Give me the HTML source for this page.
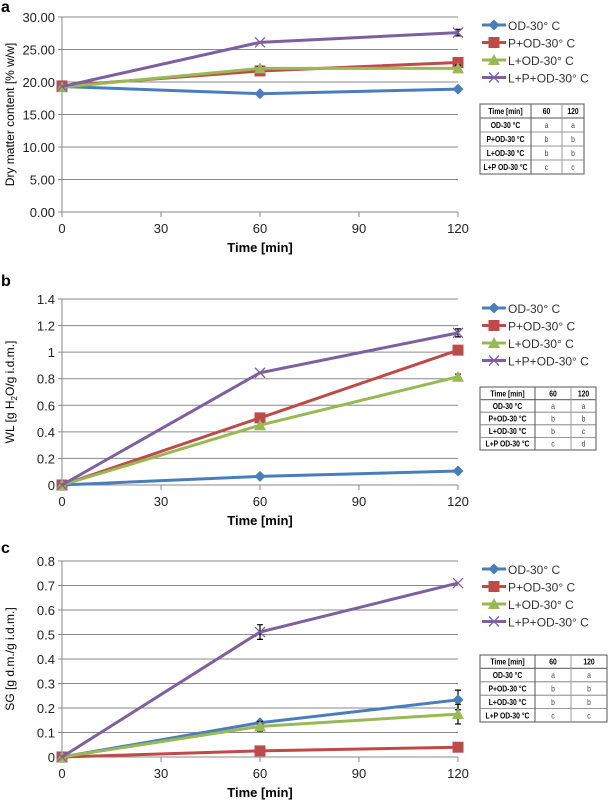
<!DOCTYPE html>
<html><head><meta charset="utf-8"><style>
body{margin:0;background:#fff;width:608px;height:800px;overflow:hidden;font-family:"Liberation Sans",sans-serif}
svg{display:block}
</style></head><body>
<svg id="s" width="608" height="800"></svg>
<script>
const times=[0,60,120];
const xTicks=[0,30,60,90,120];
const seriesNames=["OD-30° C","P+OD-30° C","L+OD-30° C","L+P+OD-30° C"];
const aOD=[19.3,18.2,18.9], aP=[19.4,21.7,23.0], aL=[19.2,22.1,22.1], aLP=[19.3,26.1,27.6];
const aErr=[[0,0,0],[0,0,0],[0,0.3,0.5],[0,0,0.5]];
const bOD=[0,0.065,0.105], bP=[0,0.505,1.015], bL=[0,0.45,0.815], bLP=[0,0.845,1.145];
const bErr=[[0,0,0],[0,0,0],[0,0,0.02],[0,0,0.03]];
const cOD=[0,0.14,0.233], cP=[0,0.025,0.04], cL=[0,0.125,0.175], cLP=[0,0.51,0.71];
const cErr=[[0,0,0.04],[0,0,0],[0,0.02,0.04],[0,0.03,0]];
const aTicks=["0.00","5.00","10.00","15.00","20.00","25.00","30.00"];
const bTicks=["0","0.2","0.4","0.6","0.8","1","1.2","1.4"];
const cTicks=["0","0.1","0.2","0.3","0.4","0.5","0.6","0.7","0.8"];
const aTable=[["a","a"],["b","b"],["b","b"],["c","c"]];
const bTable=[["a","a"],["b","b"],["b","c"],["c","d"]];
const cTable=[["a","a"],["b","b"],["b","b"],["c","c"]];
const rowNames=["OD-30 °C","P+OD-30 °C","L+OD-30 °C","L+P OD-30 °C"];
const colors=["#4a7ebb","#be4b48","#98b954","#7d60a0"];
const NS="http://www.w3.org/2000/svg";
const svg=document.getElementById('s');
function mk(t,a,p,txt){const e=document.createElementNS(NS,t);for(const k in a)e.setAttribute(k,a[k]);if(txt!==undefined)e.textContent=txt;(p||svg).appendChild(e);return e;}
function panel(o){
 const g=mk('g',{});
 
 
 const x0=62,x1=458;
 const X=v=>x0+(v/120)*(x1-x0);
 const Y=v=>o.yB-(v/o.max)*(o.yB-o.yT);
 const lt=mk('text',{x:1,y:o.letterY,'font-size':16,'font-weight':'bold'},g,o.letter);
 
 
 o.ticks.forEach((t,i)=>{const v=o.max*i/(o.ticks.length-1);const y=Y(v);
  const gl=mk('line',{x1:x0,x2:x1,y1:y,y2:y,stroke:'#8a8a8a','stroke-width':1},g);
  
  
  mk('line',{x1:x0-4,x2:x0,y1:y,y2:y,stroke:'#8a8a8a'},g);
  const tl=mk('text',{x:x0-7,y:y+5,'font-size':13,'text-anchor':'end',fill:'#222'},g,t);
  
  
 });
 mk('line',{x1:x0,x2:x0,y1:o.yT,y2:o.yB,stroke:'#8a8a8a'},g);
 xTicks.forEach(t=>{const x=X(t);mk('line',{x1:x,x2:x,y1:o.yB,y2:o.yB+5,stroke:'#8a8a8a'},g);
  const tl=mk('text',{x:x,y:o.yB+21,'font-size':13,'text-anchor':'middle',fill:'#222'},g,t);
  
  });
 const xt=mk('text',{x:(x0+x1)/2,y:o.yB+40,'font-size':13,'font-weight':'bold','text-anchor':'middle'},g,'Time [min]');
 
 
 const yc=(o.yT+o.yB)/2;
 const yt=mk('text',{x:14,y:yc,'font-size':12,'text-anchor':'middle',transform:`rotate(-90 14 ${yc})`},g);
 yt.innerHTML=o.ytitle;
 
 
 o.series.forEach((d,si)=>{
  const c=colors[si];
  const pl=mk('polyline',{points:d.map((v,i)=>X(times[i])+','+Y(v)).join(' '),fill:'none',stroke:c,'stroke-width':3},g);
  
  
  d.forEach((v,i)=>{const x=X(times[i]),y=Y(v);const e=o.err[si][i];
   if(e>0){const y1=Y(v+e),y2=Y(v-e);mk('path',{d:`M${x} ${y1}V${y2}M${x-3} ${y1}H${x+3}M${x-3} ${y2}H${x+3}`,stroke:'#000','stroke-width':1.2,fill:'none'},g);}
   marker(g,si,x,y);
  });
 });
 seriesNames.forEach((n,i)=>{const y=o.legY+i*17.5;
  const le=mk('g',{},g);
  
  
  mk('line',{x1:482,x2:506,y1:y,y2:y,stroke:colors[i],'stroke-width':3},le);
  marker(le,i,494,y);
  mk('text',{x:508,y:y+5,'font-size':12,fill:'#333'},le,n);
 });
 const tg=mk('g',{},g);
 
 
 const tx=o.tbl[0],ty=o.tbl[1],tw=o.tbl[2],th=o.tbl[3],c1=o.tbl[4],c2=o.tbl[5];
 const rh=th/5;
 mk('rect',{x:tx,y:ty,width:tw,height:th,fill:'#fff',stroke:'#555','stroke-width':1},tg);
 for(let r=1;r<5;r++)mk('line',{x1:tx,x2:tx+tw,y1:ty+r*rh,y2:ty+r*rh,stroke:'#777','stroke-width':r==1?1.2:0.8},tg);
 mk('line',{x1:c1,x2:c1,y1:ty,y2:ty+th,stroke:'#555'},tg);
 mk('line',{x1:c2,x2:c2,y1:ty,y2:ty+th,stroke:'#999'},tg);
 function tt(x,y,s,bold,fill){const e=mk('text',{x:0,y:0,'font-size':8,'text-anchor':'middle','font-weight':bold?'bold':'normal',fill:fill||'#000',transform:`translate(${x} ${y}) scale(0.85 1)`},tg,s);return e;}
 tt((tx+c1)/2,ty+rh/2+3,"Time [min]",1);
 tt((c1+c2)/2,ty+rh/2+3,"60",1);
 tt((c2+tx+tw)/2,ty+rh/2+3,"120",1);
 rowNames.forEach((n,r)=>{const y=ty+(r+1)*rh+rh/2+3;
  tt((tx+c1)/2,y,n,1);
  tt((c1+c2)/2,y,o.table[r][0],0,'#444');
  tt((c2+tx+tw)/2,y,o.table[r][1],0,'#444');
 });
}
function marker(g,si,x,y){const c=colors[si];
 if(si==0)mk('path',{d:`M${x} ${y-5.5}L${x+5.5} ${y}L${x} ${y+5.5}L${x-5.5} ${y}Z`,fill:c},g);
 else if(si==1)mk('rect',{x:x-5.5,y:y-5.5,width:11,height:11,fill:c},g);
 else if(si==2)mk('path',{d:`M${x} ${y-6}L${x+6} ${y+5}L${x-6} ${y+5}Z`,fill:c},g);
 else mk('path',{d:`M${x-5} ${y-5}L${x+5} ${y+5}M${x+5} ${y-5}L${x-5} ${y+5}`,stroke:c,'stroke-width':1.3},g);
}
panel({letter:'a',letterY:12,yT:17,yB:212,max:30,ticks:aTicks,series:[aOD,aP,aL,aLP],err:aErr,
 ytitle:'Dry matter content [% w/w]',legY:25,tbl:[480,104,104,70,531,562],table:aTable});
panel({letter:'b',letterY:286,yT:299,yB:485,max:1.4,ticks:bTicks,series:[bOD,bP,bL,bLP],err:bErr,
 ytitle:'WL [g H<tspan font-size="8" dy="3">2</tspan><tspan dy="-3">O/g i.d.m.]</tspan>',legY:308,tbl:[480,387,116,63,535,571],table:bTable});
panel({letter:'c',letterY:553,yT:561,yB:757,max:0.8,ticks:cTicks,series:[cOD,cP,cL,cLP],err:cErr,
 ytitle:'SG [g d.m./g i.d.m.]',legY:569,tbl:[480,655,127,67,535,571],table:cTable});
</script>
</body></html>
